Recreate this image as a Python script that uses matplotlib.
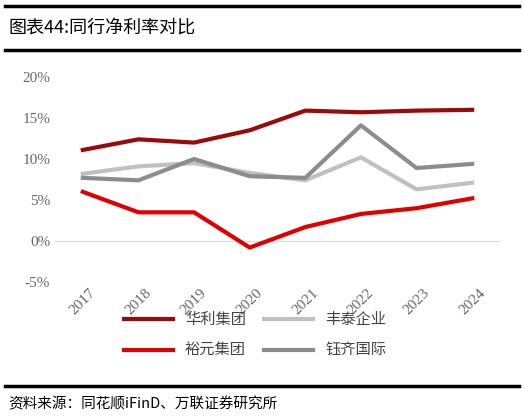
import matplotlib
matplotlib.use("Agg")
import matplotlib.pyplot as plt
from matplotlib.lines import Line2D

plt.rcParams['font.family'] = ['Noto Sans CJK SC', 'DejaVu Sans']

years = ['2017', '2018', '2019', '2020', '2021', '2022', '2023', '2024']
huali = [11.1, 12.4, 12.0, 13.5, 15.9, 15.7, 15.9, 16.0]
fengtai = [8.2, 9.1, 9.5, 8.3, 7.4, 10.2, 6.3, 7.1]
yuyuan = [6.0, 3.5, 3.5, -0.8, 1.7, 3.3, 4.0, 5.2]
yuqi = [7.7, 7.4, 10.0, 7.9, 7.7, 14.1, 8.9, 9.4]
yticks = [-5, 0, 5, 10, 15, 20]

W, H = 524, 419
fig = plt.figure(figsize=(W/100, H/100), dpi=100)

for y, lw in [(6, 2.5), (50, 2.5), (386, 2.5)]:
    fig.add_artist(Line2D([5/W, 519/W], [1-y/H, 1-y/H], color='black', lw=lw))
fig.text(8/W, 1-28/H, '图表44:同行净利率对比', fontsize=13, va='center', ha='left')
fig.text(8/W, 1-404/H, '资料来源：同花顺iFinD、万联证券研究所', fontsize=10.5, va='center', ha='left', style='italic')

ax = fig.add_axes([55/W, 1-282/H, 445/W, 205/H])
x = range(len(years))
ax.plot(x, huali, color='#9B0A0A', lw=3, label='华利集团')
ax.plot(x, fengtai, color='#C0C0C0', lw=3, label='丰泰企业')
ax.plot(x, yuyuan, color='#E00000', lw=3, label='裕元集团')
ax.plot(x, yuqi, color='#8C8C8C', lw=3, label='钰齐国际')
ax.set_xlim(-0.5, len(years)-0.5)
ax.set_ylim(-5, 20)
ax.set_yticks(yticks)
ax.set_yticklabels([f'{v}%' for v in yticks], family=['Liberation Serif'], color='#666666', fontsize=11)
ax.set_xticks(list(x))
ax.set_xticklabels(years, rotation=45, family=['Liberation Serif'], color='#666666', fontsize=11)
ax.tick_params(length=0)
for s in ax.spines.values():
    s.set_visible(False)
ax.axhline(0, color='#D9D9D9', lw=0.8, zorder=0)

handles, labels = ax.get_legend_handles_labels()
order = [0, 2, 1, 3]
fig.legend([handles[i] for i in order], [labels[i] for i in order], ncol=2,
           loc='center', bbox_to_anchor=(255/W, 1-335/H), frameon=False,
           fontsize=11, handlelength=3.2, columnspacing=1.2, labelspacing=0.9, labelcolor='#444444')

fig.savefig('out.png', dpi=100)
